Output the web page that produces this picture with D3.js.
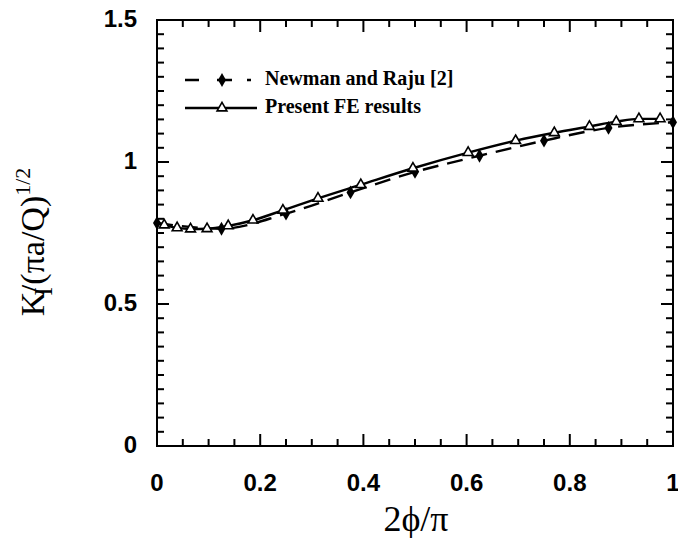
<!DOCTYPE html>
<html>
<head>
<meta charset="utf-8">
<script src="https://cdn.jsdelivr.net/npm/d3@7"></script>
</head>
<body style="margin:0">
<div id="chart"></div>
<script>
// Newman and Raju [2]
var newmanX = [0, 0.125, 0.25, 0.375, 0.5, 0.625, 0.75, 0.875, 1.0]
var newmanY = [0.785, 0.765, 0.818, 0.893, 0.965, 1.022, 1.075, 1.12, 1.14]
// Present FE results
var feX = [0, 0.014, 0.039, 0.065, 0.097, 0.138, 0.186, 0.244, 0.312, 0.395, 0.496, 0.603, 0.695, 0.770, 0.838, 0.890, 0.934, 0.975]
var feY = [0.785, 0.778, 0.768, 0.764, 0.765, 0.775, 0.795, 0.830, 0.872, 0.920, 0.978, 1.033, 1.075, 1.103, 1.125, 1.142, 1.152, 1.152]

var xMajor = [0, 0.2, 0.4, 0.6, 0.8, 1]
var yMajor = [0, 0.5, 1, 1.5]
var legendLabels = ["Newman and Raju [2]", "Present FE results"]

var W = 678, H = 538
var margin = {left: 157, right: 5, top: 20, bottom: 92}

var svg = d3.select("#chart").append("svg")
	.attr("width", W)
	.attr("height", H)

var x = d3.scaleLinear().domain([0, 1]).range([margin.left, W - margin.right])
var y = d3.scaleLinear().domain([0, 1.5]).range([H - margin.bottom, margin.top])
var plotBottom = H - margin.bottom, plotRight = W - margin.right

var xTicks = d3.range(0, 21).map(i => ({v: i / 20, major: i % 4 == 0}))
var yTicks = d3.range(0, 31).map(i => ({v: i / 20, major: i % 10 == 0}))

var fmt = d => d === 0 ? "0" : d === 1 ? "1" : d3.format(".1f")(d)

svg.append("rect")
	.attr("x", margin.left)
	.attr("y", margin.top)
	.attr("width", plotRight - margin.left)
	.attr("height", plotBottom - margin.top)
	.attr("fill", "none")
	.attr("stroke", "#000")
	.attr("stroke-width", 2)

svg.selectAll("line.xb").data(xTicks).enter().append("line")
	.attr("class", "xb")
	.attr("x1", d => x(d.v)).attr("x2", d => x(d.v))
	.attr("y1", plotBottom).attr("y2", d => plotBottom - (d.major ? 12 : 7))
	.attr("stroke", "#000").attr("stroke-width", 2)
svg.selectAll("line.xt").data(xTicks).enter().append("line")
	.attr("class", "xt")
	.attr("x1", d => x(d.v)).attr("x2", d => x(d.v))
	.attr("y1", margin.top).attr("y2", d => margin.top + (d.major ? 12 : 7))
	.attr("stroke", "#000").attr("stroke-width", 2)
svg.selectAll("line.yl").data(yTicks).enter().append("line")
	.attr("class", "yl")
	.attr("y1", d => y(d.v)).attr("y2", d => y(d.v))
	.attr("x1", margin.left).attr("x2", d => margin.left + (d.major ? 12 : 7))
	.attr("stroke", "#000").attr("stroke-width", 2)
svg.selectAll("line.yr").data(yTicks).enter().append("line")
	.attr("class", "yr")
	.attr("y1", d => y(d.v)).attr("y2", d => y(d.v))
	.attr("x1", plotRight).attr("x2", d => plotRight - (d.major ? 12 : 7))
	.attr("stroke", "#000").attr("stroke-width", 2)

var labelFont = g => g
	.attr("font-family", "Liberation Sans, Arial, sans-serif")
	.attr("font-weight", "bold")
	.attr("font-size", 24)
	.attr("fill", "#000")

svg.append("g").selectAll("text").data(xMajor).enter().append("text")
	.attr("x", d => x(d))
	.attr("y", plotBottom + 45)
	.attr("text-anchor", "middle")
	.call(labelFont)
	.text(fmt)

svg.append("g").selectAll("text").data(yMajor).enter().append("text")
	.attr("x", margin.left - 20)
	.attr("y", d => y(d))
	.attr("dy", "0.3em")
	.attr("text-anchor", "end")
	.call(labelFont)
	.text(fmt)

var newman = newmanX.map((v, i) => ({x: v, y: newmanY[i]}))
var fe = feX.map((v, i) => ({x: v, y: feY[i]}))

var line = d3.line().x(d => x(d.x)).y(d => y(d.y)).curve(d3.curveMonotoneX)

svg.append("path").datum(newman)
	.attr("d", line)
	.attr("fill", "none")
	.attr("stroke", "#000")
	.attr("stroke-width", 2.4)
	.attr("stroke-dasharray", "16,9")

svg.append("path").datum(fe)
	.attr("d", line)
	.attr("fill", "none")
	.attr("stroke", "#000")
	.attr("stroke-width", 2.4)

var diamond = d3.symbol().type(d3.symbolDiamond).size(55)
var triangle = d3.symbol().type(d3.symbolTriangle).size(42)

svg.selectAll(".nr").data(newman).enter()
	.append("path")
	.attr("class", "nr")
	.attr("d", diamond)
	.attr("transform", d => `translate(${x(d.x)},${y(d.y)})`)
	.attr("fill", "#000")

svg.selectAll(".fe").data(fe.slice(1)).enter()
	.append("path")
	.attr("class", "fe")
	.attr("d", triangle)
	.attr("transform", d => `translate(${x(d.x)},${y(d.y)})`)
	.attr("fill", "#fff")
	.attr("stroke", "#000")
	.attr("stroke-width", 1.6)

// legend
var legend = svg.append("g")
var rows = [80, 108]
legend.append("line")
	.attr("x1", 185).attr("x2", 251).attr("y1", rows[0]).attr("y2", rows[0])
	.attr("stroke", "#000").attr("stroke-width", 2.4)
	.attr("stroke-dasharray", "14,18,15,15,4")
legend.append("path")
	.attr("d", diamond)
	.attr("transform", `translate(222,${rows[0]})`)
legend.append("line")
	.attr("x1", 185).attr("x2", 257).attr("y1", rows[1]).attr("y2", rows[1])
	.attr("stroke", "#000").attr("stroke-width", 2.4)
legend.append("path")
	.attr("d", triangle)
	.attr("transform", `translate(222,${rows[1]})`)
	.attr("fill", "#fff").attr("stroke", "#000").attr("stroke-width", 1.6)
legend.selectAll("text").data(legendLabels).enter()
	.append("text")
	.attr("x", 265)
	.attr("y", (d, i) => rows[i] + 5)
	.attr("font-family", "Liberation Serif, Times New Roman, serif")
	.attr("font-weight", "bold")
	.attr("font-size", 20)
	.text(d => d)

// axis titles
svg.append("text")
	.attr("x", 416).attr("y", 531)
	.attr("text-anchor", "middle")
	.attr("font-family", "Liberation Serif, Times New Roman, serif")
	.attr("font-size", 36)
	.text("2ϕ/π")

var yt = svg.append("text")
	.attr("transform", "translate(44,242) rotate(-90)")
	.attr("text-anchor", "middle")
	.attr("font-family", "Liberation Serif, Times New Roman, serif")
	.attr("font-size", 34)
yt.append("tspan").text("K")
yt.append("tspan").attr("font-size", 26).attr("dy", 8).attr("dx", -4).text("I")
yt.append("tspan").attr("dy", -8).attr("dx", -7).text("/(πa/Q)")
yt.append("tspan").attr("font-size", 22).attr("dy", -14).text("1/2")
</script>
</body>
</html>
